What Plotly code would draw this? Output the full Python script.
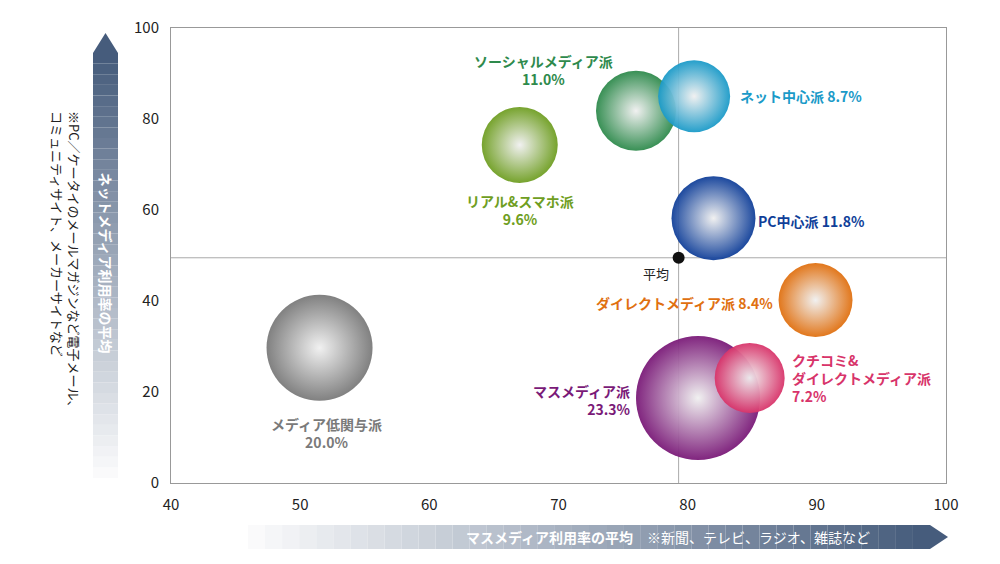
import plotly.graph_objects as go

# clusters: mass media usage (x), net media usage (y), share
names = ["ソーシャルメディア派", "ネット中心派", "リアル&スマホ派", "PC中心派",
         "ダイレクトメディア派", "マスメディア派", "クチコミ&<br>ダイレクトメディア派", "メディア低関与派"]
mass_x = [76.0, 80.5, 67.0, 82.0, 89.9, 80.8, 84.8, 51.5]
net_y = [81.8, 85.0, 74.3, 58.2, 40.2, 18.7, 23.1, 29.7]
share = [11.0, 8.7, 9.6, 11.8, 8.4, 23.3, 7.2, 20.0]
diam = [80, 72, 76, 84, 74, 124, 70, 106]
colors = ["#2e8a4c", "#1a9ac8", "#6f9e22", "#103f99", "#e07010", "#7a1a78", "#d8346a", "#7a7a7a"]
avg_x, avg_y = 79.3, 49.5

L, R, T, B = 163, 938, 20, 475
W, H = R - L, B - T
def px(x): return (x - L) / W
def py(y): return (B - y) / H

fig = go.Figure()
order = [7, 2, 0, 1, 3, 4, 5, 6]
for i in order:
    fig.add_trace(go.Scatter(
        x=[mass_x[i]], y=[net_y[i]], mode="markers",
        marker=dict(size=diam[i], color=colors[i], line=dict(width=0),
                    gradient=dict(type="radial", color="#f0f0f0"), opacity=0.95),
        hoverinfo="skip", showlegend=False))
fig.add_trace(go.Scatter(x=[avg_x], y=[avg_y], mode="markers",
                         marker=dict(size=12, color="#111"), showlegend=False))

shapes = [
    dict(type="line", x0=avg_x, x1=avg_x, y0=0, y1=100, line=dict(color="#aaa", width=1), layer="below"),
    dict(type="line", x0=40, x1=100, y0=avg_y, y1=avg_y, line=dict(color="#aaa", width=1), layer="below"),
]

def mix(t):
    c0, c1 = (255, 255, 255), (70, 92, 124)
    return "rgb(%d,%d,%d)" % tuple(int(a + (b - a) * t) for a, b in zip(c0, c1))

n = 40
for k in range(n):
    y0 = 470 - (470 - 45) * k / n
    y1 = 470 - (470 - 45) * (k + 1) / n
    shapes.append(dict(type="rect", xref="paper", yref="paper", x0=px(85), x1=px(110),
                       y0=py(y0), y1=py(y1), fillcolor=mix((k + 1) / n), line=dict(width=0),
                       layer="below"))
shapes.append(dict(type="path", xref="paper", yref="paper", layer="below",
                   path=f"M {px(85)},{py(45)} L {px(97.5)},{py(25)} L {px(110)},{py(45)} Z",
                   fillcolor=mix(1), line=dict(width=0)))
for k in range(n):
    x0 = 240 + (922 - 240) * k / n
    x1 = 240 + (922 - 240) * (k + 1) / n
    shapes.append(dict(type="rect", xref="paper", yref="paper", x0=px(x0), x1=px(x1),
                       y0=py(517), y1=py(541), fillcolor=mix((k + 1) / n), line=dict(width=0),
                       layer="below"))
shapes.append(dict(type="path", xref="paper", yref="paper", layer="below",
                   path=f"M {px(922)},{py(517)} L {px(940)},{py(529)} L {px(922)},{py(541)} Z",
                   fillcolor=mix(1), line=dict(width=0)))

F = "Noto Sans CJK JP"
lab = [
    (0, 535, 62, "center"), (1, 730, 88, "left"), (2, 512, 202, "center"), (3, 748, 213, "left"),
    (4, 767, 295, "right"), (5, 625, 392, "right"), (6, 782, 370, "left"), (7, 318, 425, "center"),
]
ann = []
for i, x, y, a in lab:
    if i in (1, 3, 4):
        t = f"{names[i]} {share[i]:.1f}%"
    else:
        t = f"{names[i]}<br>{share[i]:.1f}%"
    ann.append(dict(xref="paper", yref="paper", x=px(x), y=py(y), text=f"<b>{t}</b>",
                    showarrow=False, xanchor=a, yanchor="middle", align=a,
                    font=dict(family=F, size=14, color=colors[i])))
ann.append(dict(xref="paper", yref="paper", x=px(648), y=py(265), text="平均", showarrow=False,
                xanchor="center", yanchor="middle", font=dict(family=F, size=13, color="#222")))
ann.append(dict(xref="paper", yref="paper", x=px(97.5), y=py(255), text="<b>ネットメディア利用率の平均</b>",
                showarrow=False, textangle=90, xanchor="center", yanchor="middle",
                font=dict(family=F, size=14, color="white")))
ann.append(dict(xref="paper", yref="paper", x=px(58), y=py(255),
                text="※PC／ケータイのメールマガジンなど電子メール、<br>コミュニティサイト、メーカーサイトなど",
                showarrow=False, textangle=90, align="left", xanchor="center", yanchor="middle",
                font=dict(family=F, size=13, color="#222")))
ann.append(dict(xref="paper", yref="paper", x=px(660), y=py(529),
                text="<b>マスメディア利用率の平均</b>　※新聞、テレビ、ラジオ、雑誌など",
                showarrow=False, xanchor="center", yanchor="middle",
                font=dict(family=F, size=14, color="white")))

fig.update_layout(
    width=1000, height=564, margin=dict(l=L, r=1000 - R, t=T, b=564 - B, autoexpand=False),
    plot_bgcolor="white", paper_bgcolor="white", shapes=shapes, annotations=ann,
    font=dict(family=F, size=15, color="#222"),
    xaxis=dict(range=[40, 100], dtick=10, showgrid=False, zeroline=False, showline=True,
               linecolor="#999", mirror=True, ticks="", ticklabelstandoff=8, automargin=False),
    yaxis=dict(range=[0, 100], dtick=20, showgrid=False, zeroline=False, showline=True,
               linecolor="#999", mirror=True, ticks="", ticklabelstandoff=8, automargin=False),
)
fig.write_html("out.html")
